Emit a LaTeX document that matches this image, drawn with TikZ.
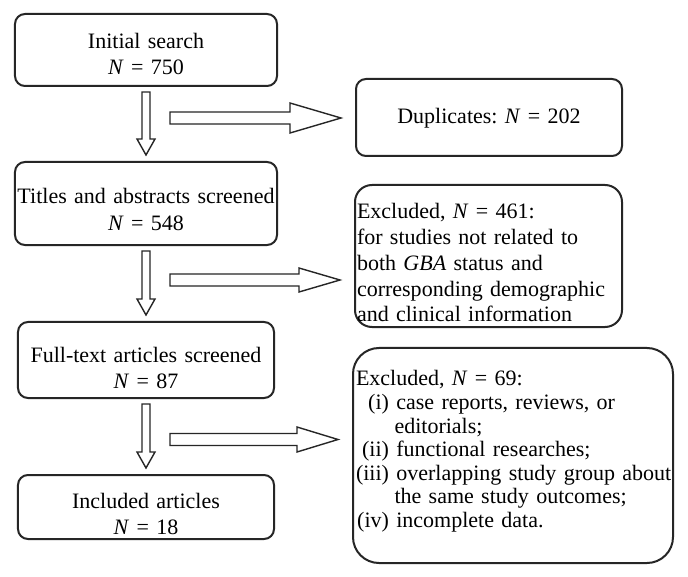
\documentclass[tikz,border=0pt]{standalone}
\usepackage{fontspec}
\setmainfont{Liberation Serif}
\usetikzlibrary{calc}
\frenchspacing

\tikzset{
  flowbox/.style={draw=black!85, line width=1bp, rounded corners=5bp, inner sep=0pt,
    align=center, font=\fontsize{11bp}{13bp}\selectfont},
  sidebox/.style={flowbox, align=left},
  blockarrow/.style={draw=black!85, line width=0.7bp, fill=white, line join=miter}
}

\newcommand\listlabel[1]{\makebox[18bp][r]{#1}\ }
% hollow arrow from a tail coordinate to the west side of a node
\newcommand\sidearrow[4]{%
  \draw[blockarrow] let \p1=(#1), \p2=(#1 -| #2.west) in
    (\x1,\y1+3bp) -- (\x2-7bp-#3,\y1+3bp) -- (\x2-7bp-#3,\y1+#4) -- (\x2-7bp,\y1)
    -- (\x2-7bp-#3,\y1-#4) -- (\x2-7bp-#3,\y1-3bp) -- (\x1,\y1-3bp) -- cycle;}
% hollow arrow from one box down to the next
\newcommand\downblock[2]{%
  \draw[blockarrow] let \p1=(#1.south), \p2=(#2.north) in
    (\x1-2bp,\y1-2.5bp) -- (\x1-2bp,\y2+11bp) -- (\x1-4.5bp,\y2+11bp) -- (\x1,\y2+3bp)
    -- (\x1+4.5bp,\y2+11bp) -- (\x1+2bp,\y2+11bp) -- (\x1+2bp,\y1-2.5bp) -- cycle;}

\begin{document}
\begin{tikzpicture}[x=0.5bp, y=-0.5bp]
    \path[fill=white] (0,0) rectangle (688,577);
    \useasboundingbox (0,0) rectangle (688,577);

    \node[flowbox, text width=131bp, text height=17.5bp, text depth=18.5bp] (search) at (146,50)
        {Initial search\\\textit{N} = 750};
    \node[flowbox, text width=131bp, text height=21bp, text depth=20.5bp] (screen) at (146,203.5)
        {Titles and abstracts screened\\\textit{N} = 548};
    \node[flowbox, text width=128bp, text height=20.3bp, text depth=17.7bp] (fulltext) at (146,360)
        {Full-text articles screened\\\textit{N} = 87};
    \node[flowbox, text width=128bp, text height=16.7bp, text depth=15.3bp] (included) at (146,507)
        {Included articles\\\textit{N} = 18};

    \node[flowbox, text width=133bp, text height=22.5bp, text depth=16bp] (dup) at (489,117.5)
        {Duplicates: \textit{N} = 202};
    \node[sidebox, rounded corners=8.5bp, inner xsep=1bp, text width=131.5bp,
          text height=16.8bp, text depth=54.2bp, font=\fontsize{11bp}{12.9bp}\selectfont] (exclA) at (488.5,256)
        {Excluded, \textit{N} = 461:\\
         for studies not related to\\
         both \textit{GBA} status and\\
         corresponding demographic\\
         and clinical information};
    \node[sidebox, rounded corners=13bp, text width=160bp,
          text height=19bp, text depth=88.5bp, font=\fontsize{11bp}{11.75bp}\selectfont] (exclB) at (513,455.5)
        {\hspace*{1.5bp}Excluded, \textit{N} = 69:\\
         \listlabel{(i)}case reports, reviews, or\\
         \hspace*{20.75bp}editorials;\\
         \listlabel{(ii)}functional researches;\\
         \listlabel{(iii)}overlapping study group about\\
         \hspace*{20.75bp}the same study outcomes;\\
         \listlabel{(iv)}incomplete data.};

    \coordinate (t1) at (170,118);
    \coordinate (t2) at (170,280);
    \coordinate (t3) at (170,439.5);

    \downblock{search}{screen}
    \downblock{screen}{fulltext}
    \downblock{fulltext}{included}

    \sidearrow{t1}{dup}{25.5bp}{7.5bp}
    \sidearrow{t2}{exclA}{20.5bp}{6bp}
    \sidearrow{t3}{exclB}{20.5bp}{6.25bp}
\end{tikzpicture}
\end{document}
